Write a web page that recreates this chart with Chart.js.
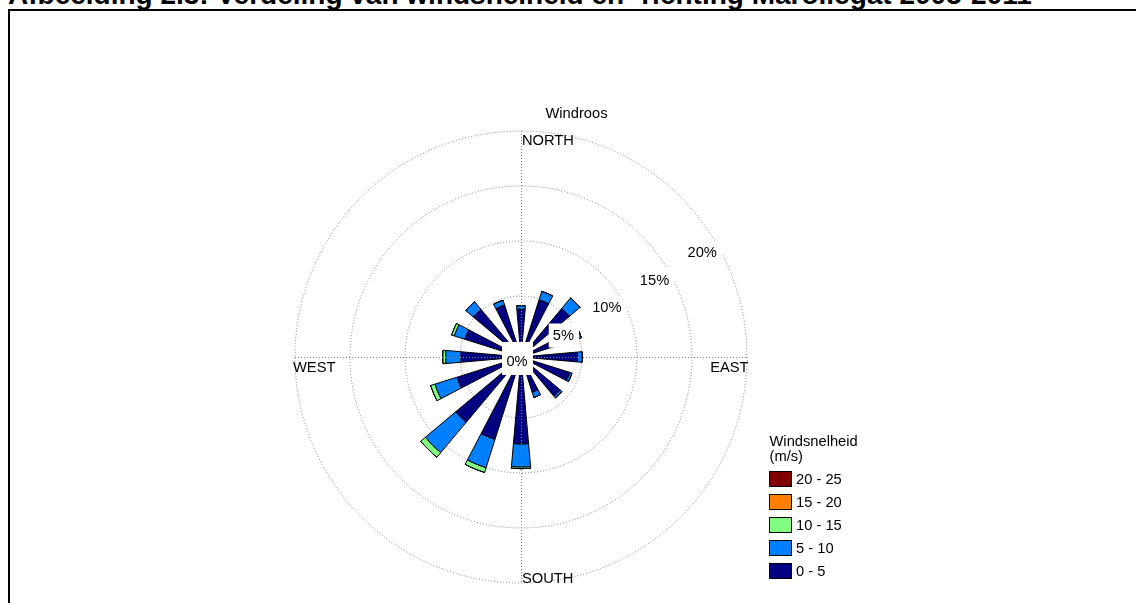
<!DOCTYPE html>
<html>
<head>
<meta charset="utf-8">
<script src="https://cdn.jsdelivr.net/npm/chart.js@4.4.1/dist/chart.umd.min.js"></script>
<style>
  html, body { margin: 0; padding: 0; background: #fff; overflow: hidden; }
  body { width: 1136px; height: 603px; position: relative; }
  #heading {
    position: absolute; left: 8px; top: -19px; margin: 0;
    font: bold 28px/28px "Liberation Sans", Arial, sans-serif;
    white-space: nowrap; color: #000;
  }
  #frame {
    position: absolute; left: 8px; top: 9px; width: 1200px; height: 700px;
    border-left: 2px solid #000; border-top: 2px solid #000;
  }
  #wrap { position: absolute; left: 0; top: 0; width: 1136px; height: 603px; }
</style>
</head>
<body>
<h1 id="heading">Afbeelding 2.3: Verdeling van windsnelheid en -richting Marollegat 2005-2011</h1>
<div id="frame"></div>
<div id="wrap"><canvas id="rose"></canvas></div>
<script>
// Sixteen compass sectors, clockwise from north
const directions = ['N', 'NNE', 'NE', 'ENE', 'E', 'ESE', 'SE', 'SSE',
                    'S', 'SSW', 'SW', 'WSW', 'W', 'WNW', 'NW', 'NNW'];

// Frequency (% of time) per sector for each wind speed class (m/s)
const speed0to5   = [3.8, 4.9, 5.2, 4.4, 4.6, 4.1, 4.1, 2.8, 7.35, 7.3, 7.2, 5.55, 4.9, 4.8, 5.1, 4.4];
const speed5to10  = [0.3, 0.8, 1.25, 0.8, 0.4, 0.2, 0.2, 0.5, 2.1, 2.7, 3.6, 2.1, 1.4, 1.0, 0.9, 0.45];
const speed10to15 = [0, 0, 0, 0, 0, 0, 0, 0, 0.15, 0.45, 0.55, 0.4, 0.25, 0.25, 0, 0];
const speed15to20 = [0, 0, 0, 0, 0, 0, 0, 0, 0, 0, 0, 0, 0, 0, 0, 0];
const speed20to25 = [0, 0, 0, 0, 0, 0, 0, 0, 0, 0, 0, 0, 0, 0, 0, 0];

const classLabels = ['0 - 5', '5 - 10', '10 - 15', '15 - 20', '20 - 25'];
const classColors = ['#000080', '#0080FF', '#80FF80', '#FF8000', '#800000'];

// Frequency rings (%)
const ringTicks = [5, 10, 15, 20];

const FONT = '"Liberation Sans", Arial, sans-serif';
const wedgeDeg = 10;             // angular width of each sector bar
const stepDeg = 360 / directions.length;
const rMin = -6 / 11;            // small hub around the 0% origin
const rMax = 20;

// Running totals: each class spans from the previous total to its own
const classes = [speed0to5, speed5to10, speed10to15, speed15to20, speed20to25];
const cumulative = [];
let running = directions.map(() => 0);
classes.forEach(c => {
  running = running.map((v, i) => v + c[i]);
  cumulative.push(running);
});

// Every sector slot is followed by an empty gap slot
const slotLabels = directions.flatMap(d => [d, '']);
const datasets = cumulative.map((cum, k) => ({
  label: classLabels[k],
  data: cum.flatMap(v => [v, null]),
  angle: ctx => (ctx.index % 2 === 0 ? wedgeDeg : stepDeg - wedgeDeg),
  backgroundColor: ctx => (ctx.index % 2 === 0 ? classColors[k] : 'rgba(0,0,0,0)'),
  borderColor: '#000',
  borderWidth: ctx => (ctx.index % 2 === 0 ? 1 : 0),
  borderAlign: 'center',
  borderJoinStyle: 'miter'
}));

// Turn each class into a ring segment starting where the class below ends
const stackSegments = {
  id: 'stackSegments',
  afterDatasetsUpdate(chart) {
    for (let k = 1; k < chart.data.datasets.length; k++) {
      const below = chart.getDatasetMeta(k - 1).data;
      chart.getDatasetMeta(k).data.forEach((arc, i) => {
        const r = below[i] ? below[i].outerRadius : 0;
        arc.innerRadius = Number.isFinite(r) ? r : 0;
      });
    }
  }
};

function boxedText(ctx, text, xRight, y) {
  const w = ctx.measureText(text).width;
  ctx.fillStyle = '#fff';
  ctx.fillRect(xRight - w - 4, y - 12, w + 9, 24);
  ctx.fillStyle = '#000';
  ctx.fillText(text, xRight, y);
}

const roseDecor = {
  id: 'roseDecor',
  afterDatasetsDraw(chart) {
    const s = chart.scales.r;
    const ctx = chart.ctx;
    const cx = s.xCenter, cy = s.yCenter, R = s.drawingArea;
    ctx.save();

    // N-S and E-W axis lines
    ctx.strokeStyle = '#808080';
    ctx.lineWidth = 1;
    ctx.setLineDash([1, 2]);
    ctx.beginPath();
    ctx.moveTo(cx + 0.5, cy - R); ctx.lineTo(cx + 0.5, cy + R);
    ctx.moveTo(cx - R, cy + 0.5); ctx.lineTo(cx + R, cy + 0.5);
    ctx.stroke();
    ctx.setLineDash([]);

    ctx.font = '14.7px ' + FONT;
    ctx.fillStyle = '#000';

    // Ring labels along the 60° bearing, just inside each ring
    ctx.textAlign = 'right';
    ctx.textBaseline = 'middle';
    const a = 60 * Math.PI / 180;
    ringTicks.forEach(v => {
      const d = s.getDistanceFromCenterForValue(v) - 16;
      boxedText(ctx, v + '%', cx + d * Math.sin(a) + 14, cy - d * Math.cos(a) + 1);
    });

    // Origin label
    ctx.textAlign = 'center';
    ctx.fillStyle = '#fff';
    ctx.fillRect(cx - 19, cy - 15, 31, 33);
    ctx.fillStyle = '#000';
    ctx.fillText('0%', cx - 4, cy + 5);

    // Compass labels
    ctx.textBaseline = 'alphabetic';
    ctx.textAlign = 'left';
    ctx.fillText('NORTH', cx + 1, cy - R + 13.5);
    ctx.fillText('SOUTH', cx + 1, cy + R - 0.5);
    ctx.fillText('WEST', cx - R - 2, cy + 14.5);
    ctx.textAlign = 'right';
    ctx.fillText('EAST', cx + R + 1.5, cy + 14.5);

    // Chart heading
    ctx.textAlign = 'center';
    ctx.fillText('Windroos', cx + 55.5, cy - R - 13.5);

    // Speed class key
    const lx = 769.5;
    ctx.textAlign = 'left';
    ctx.fillText('Windsnelheid', lx, 446);
    ctx.fillText('(m/s)', lx, 461);
    ctx.textBaseline = 'middle';
    for (let j = 0; j < classLabels.length; j++) {
      const k = classLabels.length - 1 - j;
      const top = 471.5 + j * 23;
      ctx.fillStyle = classColors[k];
      ctx.fillRect(lx, top, 22, 15);
      ctx.strokeStyle = '#000';
      ctx.lineWidth = 1;
      ctx.strokeRect(lx, top, 22, 15);
      ctx.fillStyle = '#000';
      ctx.fillText(classLabels[k], 796, top + 8.5);
    }
    ctx.restore();
  }
};

new Chart(document.getElementById('rose'), {
  type: 'polarArea',
  data: { labels: slotLabels, datasets },
  options: {
    responsive: true,
    maintainAspectRatio: false,
    animation: false,
    devicePixelRatio: 1,
    events: [],
    layout: { padding: { left: 295, top: 131, right: 389, bottom: 20 } },
    plugins: {
      legend: { display: false },
      tooltip: { enabled: false }
    },
    scales: {
      r: {
        min: rMin,
        max: rMax,
        startAngle: -wedgeDeg / 2,
        ticks: { display: false },
        grid: { circular: true, color: '#808080', lineWidth: 1, borderDash: [1, 2] },
        border: { dash: [1, 2] },
        angleLines: { display: false },
        pointLabels: { display: false },
        afterBuildTicks: scale => { scale.ticks = ringTicks.map(v => ({ value: v })); }
      }
    }
  },
  plugins: [stackSegments, roseDecor]
});
</script>
</body>
</html>
